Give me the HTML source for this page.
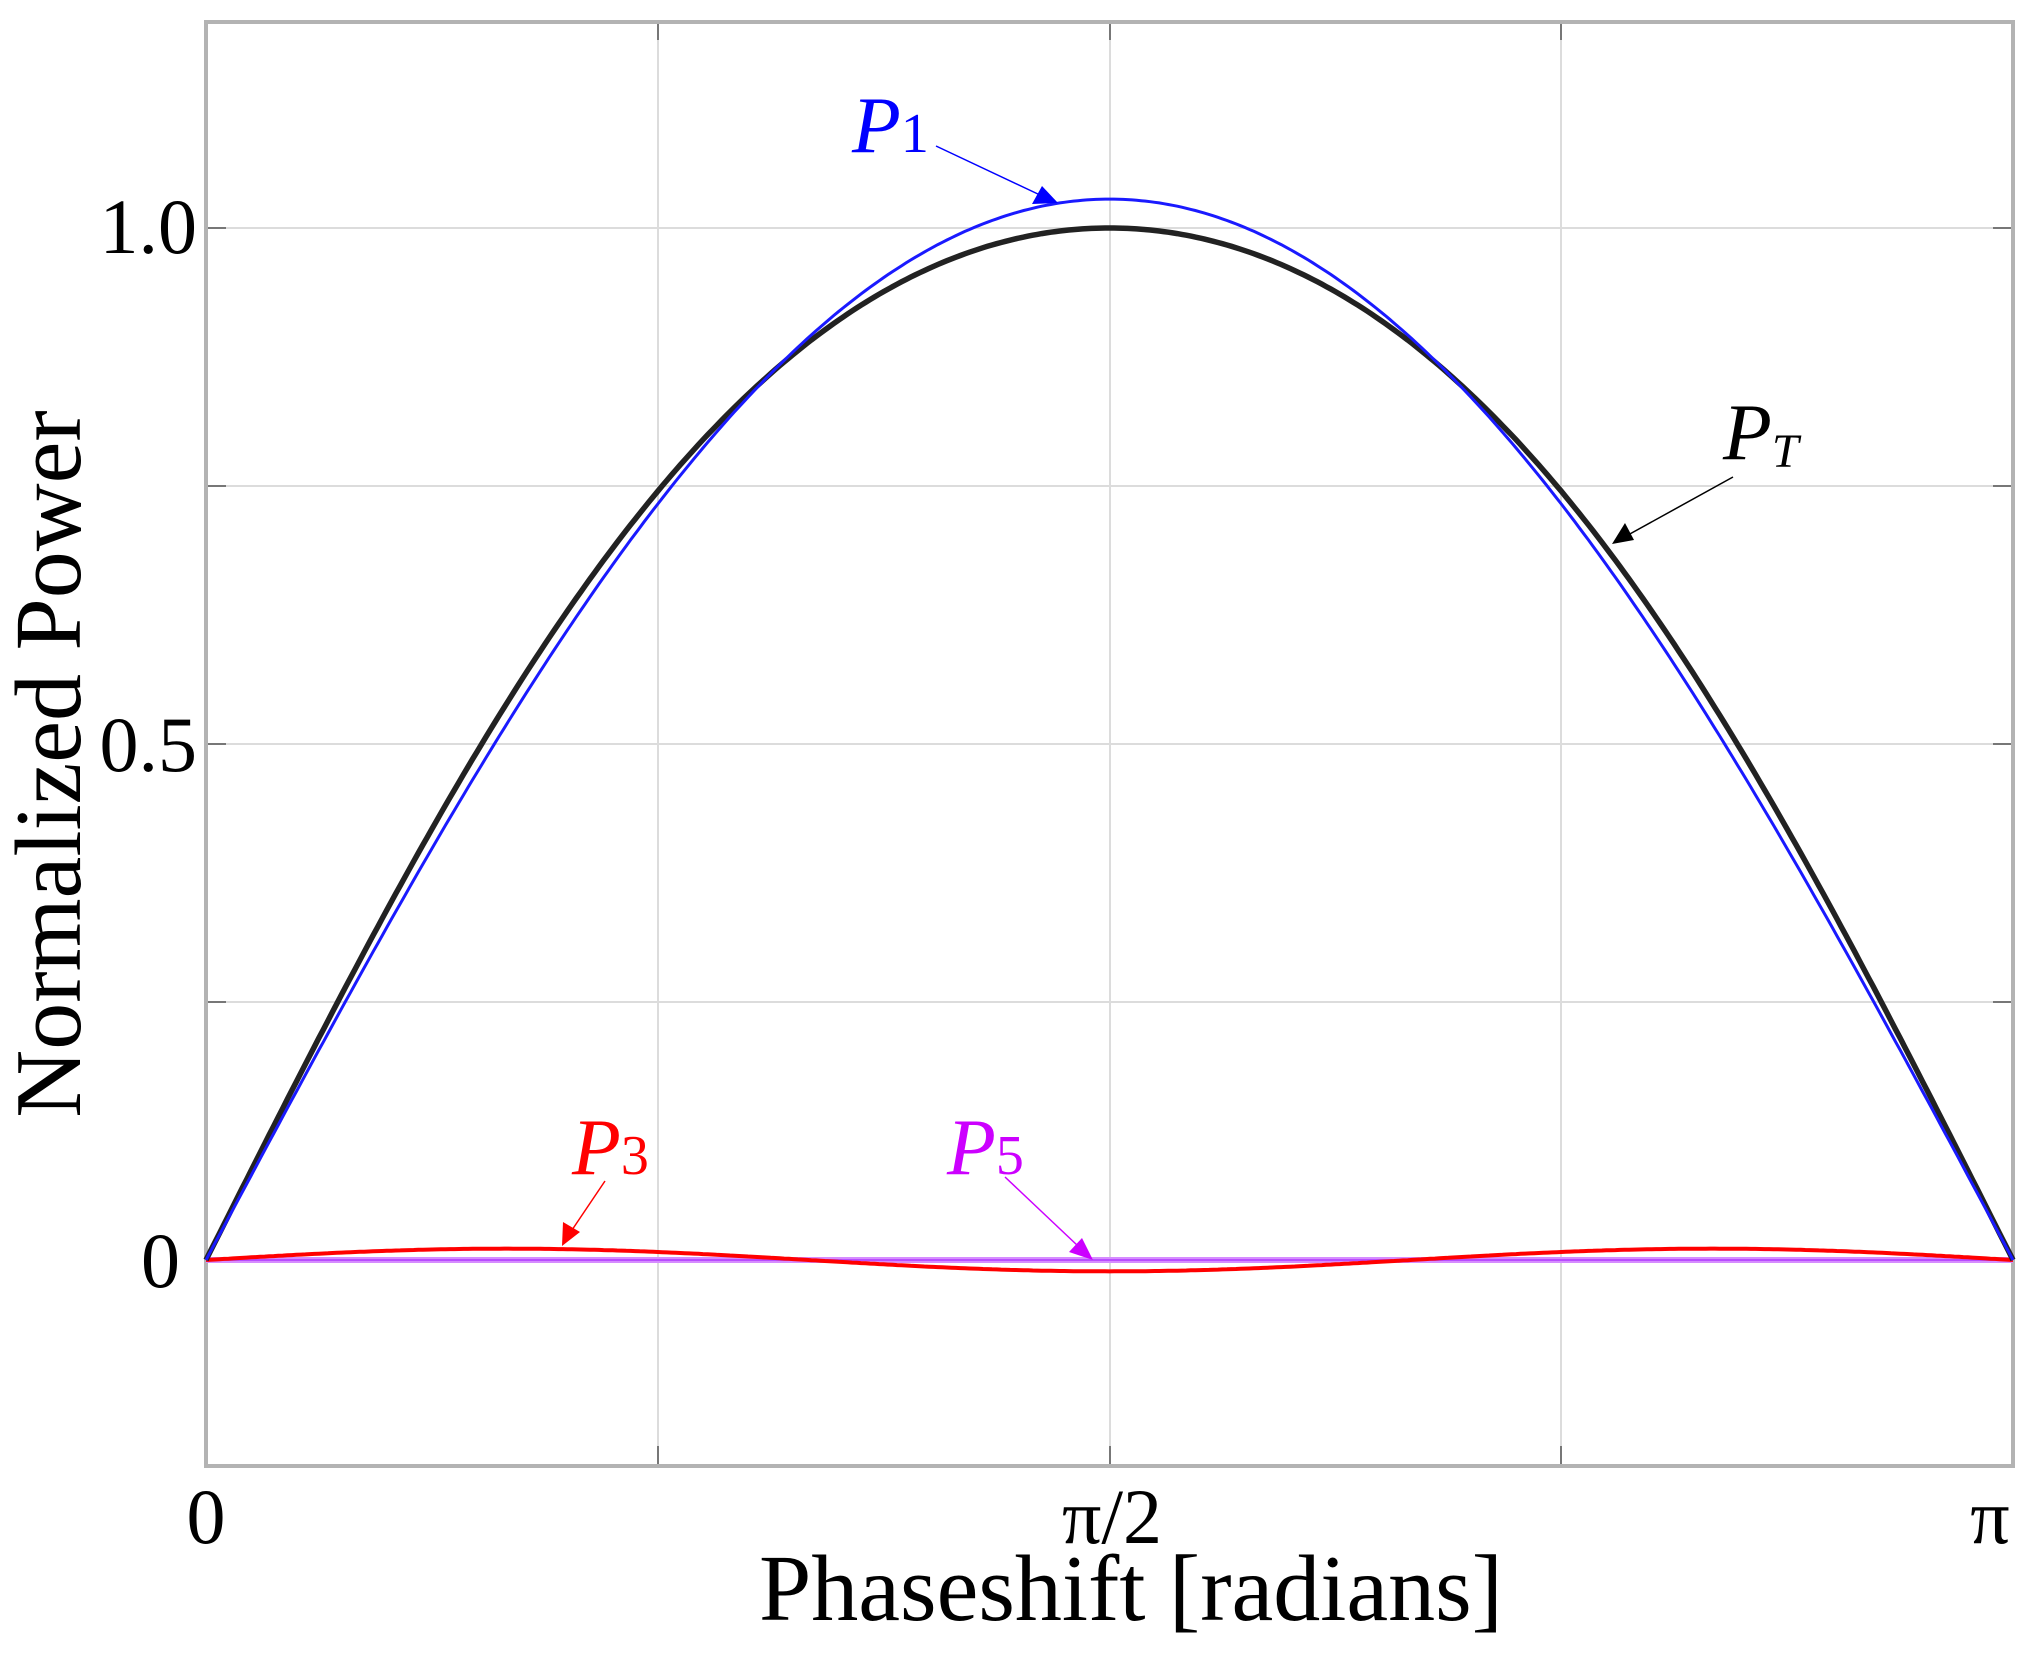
<!DOCTYPE html>
<html><head><meta charset="utf-8"><style>
html,body{margin:0;padding:0;background:#fff;}
svg{display:block;}
text{font-family:"Liberation Serif","DejaVu Serif",serif;}
</style></head><body>
<svg id="s" width="2039" height="1656" viewBox="0 0 2039 1656" xmlns="http://www.w3.org/2000/svg">
<rect width="2039" height="1656" fill="#fff"/>
<g stroke="#dcdcdc" stroke-width="2">
<line x1="658" y1="22" x2="658" y2="1466"/>
<line x1="1110" y1="22" x2="1110" y2="1466"/>
<line x1="1561" y1="22" x2="1561" y2="1466"/>
<line x1="206" y1="228" x2="2013" y2="228"/>
<line x1="206" y1="486" x2="2013" y2="486"/>
<line x1="206" y1="744" x2="2013" y2="744"/>
<line x1="206" y1="1002" x2="2013" y2="1002"/>
<line x1="206" y1="1260" x2="2013" y2="1260"/>
</g>
<g stroke="#777" stroke-width="2">
<line x1="658" y1="1466" x2="658" y2="1446"/><line x1="1110" y1="1466" x2="1110" y2="1446"/><line x1="1561" y1="1466" x2="1561" y2="1446"/>
<line x1="658" y1="22" x2="658" y2="40"/><line x1="1110" y1="22" x2="1110" y2="40"/><line x1="1561" y1="22" x2="1561" y2="40"/>
<line x1="206" y1="228" x2="226" y2="228"/><line x1="206" y1="486" x2="226" y2="486"/><line x1="206" y1="744" x2="226" y2="744"/><line x1="206" y1="1002" x2="226" y2="1002"/><line x1="206" y1="1260" x2="226" y2="1260"/>
<line x1="2013" y1="228" x2="1993" y2="228"/><line x1="2013" y1="486" x2="1993" y2="486"/><line x1="2013" y1="744" x2="1993" y2="744"/><line x1="2013" y1="1002" x2="1993" y2="1002"/>
</g>
<rect x="206" y="22" width="1807" height="1444" fill="none" stroke="#b3b3b3" stroke-width="4"/>
<path id="p5" fill="none" stroke="#d68cff" stroke-width="6"/>
<path id="p5c" fill="none" stroke="#b84dff" stroke-width="2"/>
<path id="p3" fill="none" stroke="#ff0000" stroke-width="4"/>
<path id="pt" fill="none" stroke="#222" stroke-width="5.5"/>
<path id="p1" fill="none" stroke="#1a1aff" stroke-width="3"/>
<g stroke-width="1.5">
<line x1="936" y1="146" x2="1040" y2="195" stroke="#0000ff"/>
<polygon points="1058,203 1032,204 1042,186" fill="#0000ff"/>
<line x1="1733" y1="477" x2="1628" y2="535" stroke="#000"/>
<polygon points="1612,544 1625,523 1634,540" fill="#000"/>
<line x1="605" y1="1181" x2="572" y2="1230" stroke="#ff0000"/>
<polygon points="562,1246 563,1222 580,1232" fill="#ff0000"/>
<line x1="1005" y1="1177" x2="1078" y2="1246" stroke="#cc00ff"/>
<polygon points="1093,1260 1069,1252 1082,1238" fill="#cc00ff"/>
</g>
<g font-style="italic" font-size="80">
<text x="852" y="152" fill="#0000ff">P<tspan font-style="normal" font-size="56">1</tspan></text>
<text x="1723" y="459" fill="#000">P<tspan font-size="48" dy="8">T</tspan></text>
<text x="572" y="1174" fill="#ff0000">P<tspan font-style="normal" font-size="56">3</tspan></text>
<text x="947" y="1174" fill="#cc00ff">P<tspan font-style="normal" font-size="56">5</tspan></text>
</g>
<g font-size="78" fill="#000">
<text x="197" y="253" text-anchor="end">1.0</text>
<text x="197" y="771" text-anchor="end">0.5</text>
<text x="180" y="1287" text-anchor="end">0</text>
<text x="206" y="1543" text-anchor="middle">0</text>
<text x="1112" y="1543" text-anchor="middle">π/2</text>
<text x="1990" y="1543" text-anchor="middle">π</text>
<text x="1131" y="1620" text-anchor="middle" font-size="94">Phaseshift [radians]</text>
<text transform="translate(80,764) rotate(-90)" text-anchor="middle" font-size="94">Normalized Power</text>
</g>
</svg>
<script>
function X(t){return 206+t/Math.PI*1807;}
function Y(v){return 1260-1032*v;}
function mk(f){var d="";for(var i=0;i<=400;i++){var t=Math.PI*i/400;d+=(i?"L":"M")+X(t).toFixed(1)+" "+Y(f(t)).toFixed(1);}return d;}
document.getElementById("pt").setAttribute("d",mk(function(t){var c=Math.cos(t);return Math.sin(t)*(1+0.107*c*c);}));
document.getElementById("p1").setAttribute("d",mk(function(t){return 1.032*Math.sin(t)+0.004*Math.sin(3*t);}));
document.getElementById("p3").setAttribute("d",mk(function(t){return 0.011*Math.sin(3*t);}));
document.getElementById("p5").setAttribute("d",mk(function(t){return 0;}));
document.getElementById("p5c").setAttribute("d",mk(function(t){return 0;}));
</script>
</body></html>
